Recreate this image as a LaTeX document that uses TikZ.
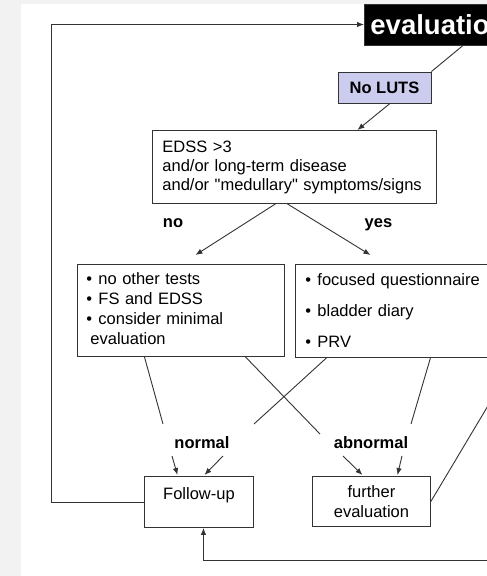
\documentclass[tikz,border=0pt]{standalone}
\usepackage{fontspec}
\setmainfont{Liberation Sans}[Ligatures=TeXOff]
\usetikzlibrary{arrows.meta}

\definecolor{lutsblue}{HTML}{CCCCEE}
\definecolor{linegray}{HTML}{333333}

\newcommand{\blt}{\makebox[12pt][l]{\textbullet}}

\tikzstyle{box} = [draw=linegray, line width=0.9pt, inner sep=0pt, font=\fontsize{16.5}{20}\selectfont]
\tikzstyle{lbl} = [anchor=base, inner sep=0pt, font=\fontsize{16.5}{20}\selectfont\bfseries]
\tikzstyle{conn} = [draw=linegray, line width=0.9pt]
\tikzstyle{arr} = [conn, -{Latex[length=7pt,width=5.5pt]}]

\begin{document}
\begin{tikzpicture}[x=1pt, y=-1pt]
% page
\fill[gray!10] (0,0) rectangle (487,576);
\fill[white] (21,4) rectangle (487,576);
\useasboundingbox (0,0) rectangle (487,576);

% boxes
\node[box, fill=black, text=white, anchor=west, minimum height=41, inner xsep=6pt,
      font=\fontsize{27.5}{30}\selectfont\bfseries] (eval) at (364,24.5) {evaluation};
\node[box, fill=lutsblue, minimum width=93, minimum height=31] (noluts) at (384.5,87.5) {\bfseries No LUTS};
\node[box, anchor=north west, text width=264, minimum height=73, inner xsep=10pt, align=left,
      font=\fontsize{16.5}{19}\selectfont] (edss) at (152,130)
      {EDSS >3\\and/or long-term disease\\and/or "medullary" symptoms/signs};
\node[box, anchor=north west, text width=189, minimum height=92, inner xsep=9pt, align=left] (minimal) at (77,264)
      {\begin{tabular}{@{}l@{}}
       \blt no other tests\\
       \blt FS and EDSS\\
       \blt consider minimal\\
       \hspace{4pt}evaluation
       \end{tabular}};
\node[box, anchor=north west, text width=200, minimum height=93, inner xsep=10pt, align=left] (focused) at (295,264)
      {\blt focused questionnaire\\[11pt]\blt bladder diary\\[11pt]\blt PRV};
\node[box, anchor=north west, minimum width=109, minimum height=51, text height=12pt, text depth=17pt,
      inner ysep=11pt] (follow) at (144,476) {Follow-up};
\node[box, anchor=north west, minimum width=118, minimum height=50, align=center] (further) at (312,476)
      {further\\evaluation};

% labels
\node[lbl] (no) at (173,227) {no};
\node[lbl] (yes) at (378.5,227) {yes};
\node[lbl] (normal) at (202,448) {normal};
\node[lbl] (abnormal) at (371,448) {abnormal};

% free ends outside the frame
\coordinate (backin) at (495,560);
\coordinate (upright) at (495,394);

% connectors
\draw[conn] ([xshift=99]eval.south west) -- (noluts.north east);
\draw[arr] ([xshift=5.5]noluts.south) -- ([xshift=63]edss.north);
\draw[arr] ([xshift=-19]edss.south) -- ([xshift=14.5,yshift=9]minimal.north);
\draw[arr] ([xshift=-7]edss.south) -- ([xshift=-35,yshift=9]focused.north);

\draw[conn] ([xshift=-36.5]minimal.south) -- ([xshift=-39,yshift=24]normal.base);
\draw[conn] ([xshift=64.5]minimal.south) -- ([xshift=-51,yshift=14]abnormal.base);
\draw[conn] ([xshift=-79]focused.south) -- ([xshift=52,yshift=24]normal.base);
\draw[conn] ([xshift=25]focused.south) -- ([xshift=40,yshift=24]abnormal.base);

\draw[arr] ([xshift=-30,yshift=-8]normal.base) -- ([xshift=-21.5,yshift=1]follow.north);
\draw[arr] ([xshift=21,yshift=-8]normal.base) -- ([xshift=5.5,yshift=1]follow.north);
\draw[arr] ([xshift=-28,yshift=-8]abnormal.base) -- ([xshift=-9,yshift=1]further.north);
\draw[arr] ([xshift=31,yshift=-8]abnormal.base) -- ([xshift=26,yshift=1]further.north);

\draw[arr] (follow.west) -- ++(-93,0) |- (eval.west);
\draw[arr] (backin) -| ([xshift=4.5]follow.south);
\draw[conn] (further.east) -- (upright);
\end{tikzpicture}
\end{document}
